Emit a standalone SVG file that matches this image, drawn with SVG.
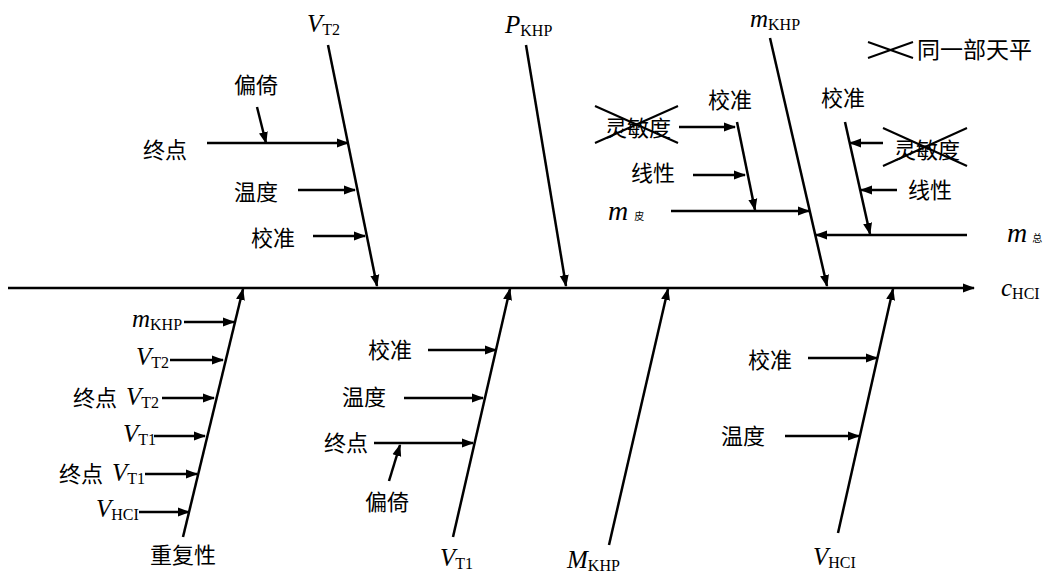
<svg xmlns="http://www.w3.org/2000/svg" width="1045" height="575" viewBox="0 0 1045 575">
<style>
.ln{stroke:#000;stroke-width:2.5;fill:none}
.a{marker-end:url(#ah)}
.x{stroke:#000;stroke-width:2;fill:none}
.cjk{font-family:"Noto Sans CJK SC",sans-serif;font-size:22px;fill:#000}
.it{font-family:"Liberation Serif","Noto Sans CJK SC",serif;font-style:italic;font-size:25px;fill:#000}
.sub{font-family:"Liberation Serif",serif;font-style:normal;font-size:16px}
.tiny{font-family:"Noto Sans CJK SC",sans-serif;font-style:normal;font-size:10px}
</style>
<defs>
<marker id="ah" markerWidth="12" markerHeight="10" refX="11" refY="5" orient="auto" markerUnits="userSpaceOnUse"><path d="M0,0.5 L12,5 L0,9.5 z" fill="#000"/></marker>
</defs>
<rect width="1045" height="575" fill="#fff"/>

<g id="connectors">
<line class="ln a" x1="8" y1="288" x2="974" y2="288"/>
<line class="ln a" x1="328" y1="45" x2="377" y2="286"/>
<line class="ln a" x1="526" y1="45" x2="566" y2="286"/>
<line class="ln a" x1="770" y1="38" x2="827" y2="286"/>
<line class="ln a" x1="257" y1="107" x2="266" y2="143"/>
<line class="ln a" x1="207" y1="143" x2="348" y2="143"/>
<line class="ln a" x1="298" y1="190" x2="355" y2="190"/>
<line class="ln a" x1="313" y1="236" x2="365" y2="236"/>
<line class="ln a" x1="737" y1="122" x2="755" y2="210"/>
<line class="ln a" x1="679" y1="127" x2="735" y2="127"/>
<line class="ln a" x1="693" y1="175" x2="745" y2="175"/>
<line class="ln a" x1="671" y1="211" x2="809" y2="211"/>
<line class="ln a" x1="845" y1="122" x2="870" y2="234"/>
<line class="ln a" x1="883" y1="143" x2="850" y2="143"/>
<line class="ln a" x1="897" y1="190" x2="861" y2="190"/>
<line class="ln a" x1="967" y1="235" x2="816" y2="235"/>
<line class="ln a" x1="183" y1="537" x2="243" y2="289"/>
<line class="ln a" x1="453" y1="537" x2="510" y2="289"/>
<line class="ln a" x1="609" y1="545" x2="668" y2="289"/>
<line class="ln a" x1="838" y1="533" x2="893" y2="289"/>
<line class="ln a" x1="184" y1="322" x2="234" y2="322"/>
<line class="ln a" x1="170" y1="360" x2="223" y2="360"/>
<line class="ln a" x1="162" y1="398" x2="214" y2="398"/>
<line class="ln a" x1="154" y1="436" x2="205" y2="436"/>
<line class="ln a" x1="145" y1="474" x2="197" y2="474"/>
<line class="ln a" x1="139" y1="512" x2="189" y2="512"/>
<line class="ln a" x1="428" y1="350" x2="496" y2="350"/>
<line class="ln a" x1="404" y1="398" x2="483" y2="398"/>
<line class="ln a" x1="374" y1="443" x2="473" y2="443"/>
<line class="ln a" x1="389" y1="481" x2="400" y2="445"/>
<line class="ln a" x1="808" y1="358" x2="877" y2="358"/>
<line class="ln a" x1="785" y1="436" x2="859" y2="436"/>
</g>

<g id="n-cHCl"><text class="it" x="1001" y="296">c<tspan class="sub" dy="3">HCI</tspan></text></g>
<g id="n-VT2"><text class="it" x="307" y="32">V<tspan class="sub" dy="3">T2</tspan></text></g>
<g id="n-PKHP"><text class="it" x="505" y="33">P<tspan class="sub" dy="3">KHP</tspan></text></g>
<g id="n-mKHP"><text class="it" x="750" y="27">m<tspan class="sub" dy="3">KHP</tspan></text></g>

<g id="n-vt2-bias"><text class="cjk" x="234" y="93">偏倚</text></g>
<g id="n-vt2-end"><text class="cjk" x="143" y="158">终点</text></g>
<g id="n-vt2-temp"><text class="cjk" x="234" y="200">温度</text></g>
<g id="n-vt2-cal"><text class="cjk" x="251" y="246">校准</text></g>

<g id="n-m1-cal"><text class="cjk" x="708" y="108">校准</text></g>
<g id="n-m1-sens"><text class="cjk" x="605" y="136">灵敏度</text>
<line class="x" x1="595" y1="106" x2="678" y2="143"/><line class="x" x1="595" y1="143" x2="678" y2="106"/></g>
<g id="n-m1-lin"><text class="cjk" x="631" y="181">线性</text></g>
<g id="n-mpi"><text class="it" x="608" y="220" style="font-size:28px">m<tspan class="tiny" dx="6">皮</tspan></text></g>

<g id="n-m2-cal"><text class="cjk" x="821" y="106">校准</text></g>
<g id="n-m2-sens"><text class="cjk" x="894" y="158">灵敏度</text>
<line class="x" x1="883" y1="128" x2="967" y2="166"/><line class="x" x1="883" y1="166" x2="967" y2="128"/></g>
<g id="n-m2-lin"><text class="cjk" x="908" y="198">线性</text></g>
<g id="n-mzong"><text class="it" x="1007" y="242" style="font-size:28px">m<tspan class="tiny" dx="5">总</tspan></text></g>

<g id="legend"><line class="x" x1="868" y1="42" x2="913" y2="58"/><line class="x" x1="868" y1="58" x2="913" y2="42"/>
<text class="cjk" x="917" y="58" style="font-size:23px">同一部天平</text></g>

<g id="n-rep"><text class="cjk" x="150" y="563">重复性</text></g>
<g id="n-rep-m"><text class="it" x="132" y="327">m<tspan class="sub" dy="3">KHP</tspan></text></g>
<g id="n-rep-vt2"><text class="it" x="136" y="365">V<tspan class="sub" dy="3">T2</tspan></text></g>
<g id="n-rep-evt2"><text class="cjk" x="73" y="406">终点 <tspan class="it" x="126" dy="-1">V</tspan><tspan class="sub" dy="3">T2</tspan></text></g>
<g id="n-rep-vt1"><text class="it" x="123" y="442">V<tspan class="sub" dy="3">T1</tspan></text></g>
<g id="n-rep-evt1"><text class="cjk" x="59" y="482">终点 <tspan class="it" x="112" dy="-1">V</tspan><tspan class="sub" dy="3">T1</tspan></text></g>
<g id="n-rep-vhcl"><text class="it" x="96" y="517">V<tspan class="sub" dy="3">HCI</tspan></text></g>

<g id="n-VT1"><text class="it" x="440" y="566">V<tspan class="sub" dy="3">T1</tspan></text></g>
<g id="n-vt1-cal"><text class="cjk" x="368" y="358">校准</text></g>
<g id="n-vt1-temp"><text class="cjk" x="342" y="405">温度</text></g>
<g id="n-vt1-end"><text class="cjk" x="324" y="451">终点</text></g>
<g id="n-vt1-bias"><text class="cjk" x="365" y="510">偏倚</text></g>

<g id="n-MKHP"><text class="it" x="567" y="568">M<tspan class="sub" dy="3">KHP</tspan></text></g>

<g id="n-VHCl"><text class="it" x="813" y="565">V<tspan class="sub" dy="3">HCI</tspan></text></g>
<g id="n-vhcl-cal"><text class="cjk" x="748" y="368">校准</text></g>
<g id="n-vhcl-temp"><text class="cjk" x="721" y="444">温度</text></g>
</svg>
